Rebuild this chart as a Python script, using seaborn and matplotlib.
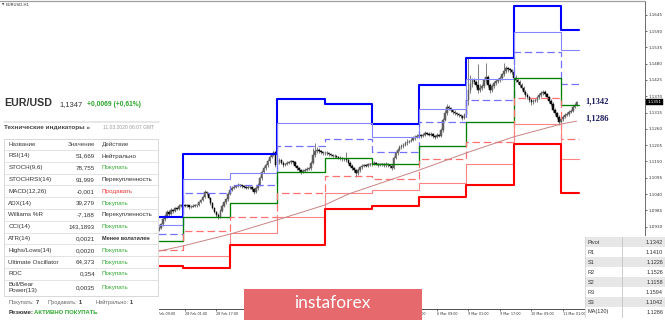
import numpy as np
import pandas as pd
import matplotlib
matplotlib.use("Agg")
import matplotlib.pyplot as plt
import matplotlib.transforms as mtransforms
from matplotlib.patches import Rectangle
import seaborn as sns

# ------------------------------------------------------------------ data
# hourly bars, t = hours since 27 Feb 00:00 (server time, weekends skipped)
first_bar = 12
first_open = 1.0920
close_feb27 = [1.0926, 1.0939, 1.0956, 1.0966, 1.0980, 1.0973, 1.0986, 1.0983, 1.0993, 1.0990, 1.1000, 1.1003]
high_feb27 = [1.0932, 1.0944, 1.0962, 1.0972, 1.0986, 1.0985, 1.0992, 1.0991, 1.0998, 1.0997, 1.1005, 1.1008]
low_feb27 = [1.0914, 1.0921, 1.0934, 1.0950, 1.0960, 1.0967, 1.0968, 1.0977, 1.0979, 1.0985, 1.0986, 1.0996]

close_feb28 = [1.1003, 1.0999, 1.1002, 1.0996, 1.0998, 1.1001, 1.1004, 1.1002, 1.1013, 1.1020, 1.1030, 1.1047,
               1.1042, 1.1027, 1.1010, 1.0993, 1.0980, 1.0970, 1.0963, 1.0983, 1.1000, 1.1013, 1.1023, 1.1040]
high_feb28 = [1.1008, 1.1007, 1.1006, 1.1004, 1.1002, 1.1005, 1.1008, 1.1007, 1.1017, 1.1025, 1.1036, 1.1053,
              1.1050, 1.1044, 1.1030, 1.1014, 1.0996, 1.0984, 1.0975, 1.0988, 1.1005, 1.1018, 1.1028, 1.1046]
low_feb28 = [1.0998, 1.0995, 1.0996, 1.0991, 1.0993, 1.0995, 1.0998, 1.0998, 1.0999, 1.1009, 1.1016, 1.1026,
             1.1036, 1.1022, 1.1004, 1.0988, 1.0975, 1.0964, 1.0955, 1.0958, 1.0978, 1.0996, 1.1008, 1.1018]

close_mar02 = [1.1054, 1.1061, 1.1064, 1.1067, 1.1071, 1.1069, 1.1067, 1.1064, 1.1061, 1.1064, 1.1063, 1.1057,
               1.1047, 1.1061, 1.1071, 1.1094, 1.1115, 1.1128, 1.1138, 1.1152, 1.1165, 1.1172, 1.1182, 1.1138]
high_mar02 = [1.1060, 1.1066, 1.1069, 1.1072, 1.1077, 1.1075, 1.1072, 1.1070, 1.1067, 1.1069, 1.1068, 1.1066,
              1.1060, 1.1066, 1.1077, 1.1100, 1.1121, 1.1134, 1.1144, 1.1158, 1.1171, 1.1178, 1.1186, 1.1185]
low_mar02 = [1.1036, 1.1050, 1.1057, 1.1060, 1.1063, 1.1064, 1.1062, 1.1059, 1.1056, 1.1057, 1.1058, 1.1052,
             1.1040, 1.1043, 1.1055, 1.1066, 1.1089, 1.1110, 1.1122, 1.1133, 1.1146, 1.1160, 1.1167, 1.1132]

close_mar03 = [1.1148, 1.1155, 1.1145, 1.1138, 1.1141, 1.1145, 1.1148, 1.1150, 1.1147, 1.1135, 1.1128, 1.1121,
               1.1115, 1.1118, 1.1121, 1.1125, 1.1128, 1.1145, 1.1172, 1.1185, 1.1189, 1.1185, 1.1182, 1.1179]
high_mar03 = [1.1154, 1.1160, 1.1158, 1.1150, 1.1146, 1.1150, 1.1153, 1.1156, 1.1153, 1.1150, 1.1139, 1.1132,
              1.1126, 1.1124, 1.1127, 1.1130, 1.1133, 1.1150, 1.1195, 1.1212, 1.1200, 1.1194, 1.1190, 1.1186]
low_mar03 = [1.1132, 1.1143, 1.1140, 1.1132, 1.1134, 1.1137, 1.1141, 1.1143, 1.1141, 1.1130, 1.1122, 1.1115,
             1.1108, 1.1110, 1.1114, 1.1117, 1.1120, 1.1122, 1.1140, 1.1165, 1.1180, 1.1178, 1.1176, 1.1173]

close_mar04 = [1.1179, 1.1177, 1.1175, 1.1172, 1.1170, 1.1168, 1.1166, 1.1163, 1.1162, 1.1158, 1.1157, 1.1155,
               1.1145, 1.1135, 1.1128, 1.1121, 1.1111, 1.1121, 1.1131, 1.1135, 1.1138, 1.1136, 1.1141, 1.1140]
high_mar04 = [1.1185, 1.1184, 1.1181, 1.1178, 1.1176, 1.1174, 1.1172, 1.1170, 1.1168, 1.1166, 1.1163, 1.1182,
              1.1160, 1.1150, 1.1140, 1.1133, 1.1126, 1.1127, 1.1136, 1.1140, 1.1143, 1.1143, 1.1146, 1.1146]
low_mar04 = [1.1173, 1.1172, 1.1170, 1.1167, 1.1165, 1.1163, 1.1161, 1.1158, 1.1156, 1.1153, 1.1151, 1.1149,
             1.1140, 1.1130, 1.1122, 1.1115, 1.1098, 1.1106, 1.1116, 1.1126, 1.1131, 1.1131, 1.1132, 1.1134]

close_mar05 = [1.1141, 1.1145, 1.1142, 1.1138, 1.1141, 1.1140, 1.1138, 1.1142, 1.1138, 1.1135, 1.1128, 1.1162,
               1.1179, 1.1189, 1.1199, 1.1202, 1.1206, 1.1212, 1.1216, 1.1219, 1.1222, 1.1229, 1.1233, 1.1236]
high_mar05 = [1.1146, 1.1150, 1.1149, 1.1146, 1.1146, 1.1146, 1.1144, 1.1147, 1.1146, 1.1142, 1.1140, 1.1168,
              1.1185, 1.1195, 1.1205, 1.1210, 1.1212, 1.1218, 1.1225, 1.1224, 1.1228, 1.1235, 1.1239, 1.1242]
low_mar05 = [1.1135, 1.1137, 1.1137, 1.1133, 1.1134, 1.1135, 1.1133, 1.1133, 1.1133, 1.1129, 1.1120, 1.1124,
             1.1157, 1.1173, 1.1184, 1.1193, 1.1197, 1.1201, 1.1207, 1.1211, 1.1214, 1.1218, 1.1224, 1.1228]

close_mar06 = [1.1239, 1.1236, 1.1239, 1.1246, 1.1243, 1.1240, 1.1243, 1.1236, 1.1233, 1.1239, 1.1236, 1.1256,
               1.1290, 1.1313, 1.1334, 1.1330, 1.1324, 1.1317, 1.1313, 1.1310, 1.1307, 1.1303, 1.1297, 1.1307]
high_mar06 = [1.1244, 1.1244, 1.1245, 1.1252, 1.1250, 1.1248, 1.1249, 1.1246, 1.1240, 1.1245, 1.1243, 1.1262,
              1.1297, 1.1325, 1.1345, 1.1342, 1.1335, 1.1328, 1.1322, 1.1318, 1.1314, 1.1311, 1.1306, 1.1312]
low_mar06 = [1.1232, 1.1230, 1.1233, 1.1236, 1.1238, 1.1235, 1.1236, 1.1230, 1.1226, 1.1230, 1.1231, 1.1232,
             1.1250, 1.1285, 1.1308, 1.1323, 1.1318, 1.1311, 1.1307, 1.1304, 1.1301, 1.1297, 1.1290, 1.1292]

close_mar09 = [1.1357, 1.1391, 1.1411, 1.1425, 1.1418, 1.1408, 1.1391, 1.1398, 1.1405, 1.1425, 1.1435, 1.1408,
               1.1391, 1.1405, 1.1415, 1.1421, 1.1425, 1.1432, 1.1445, 1.1455, 1.1465, 1.1462, 1.1459, 1.1452]
high_mar09 = [1.1370, 1.1499, 1.1440, 1.1432, 1.1430, 1.1424, 1.1479, 1.1410, 1.1412, 1.1431, 1.1482, 1.1440,
              1.1414, 1.1411, 1.1421, 1.1428, 1.1431, 1.1438, 1.1450, 1.1482, 1.1472, 1.1470, 1.1466, 1.1462]
low_mar09 = [1.1300, 1.1340, 1.1380, 1.1400, 1.1410, 1.1400, 1.1380, 1.1384, 1.1392, 1.1398, 1.1415, 1.1400,
             1.1380, 1.1384, 1.1398, 1.1408, 1.1414, 1.1418, 1.1426, 1.1438, 1.1448, 1.1452, 1.1450, 1.1444]

close_mar10 = [1.1432, 1.1425, 1.1418, 1.1408, 1.1398, 1.1384, 1.1374, 1.1367, 1.1357, 1.1351, 1.1354, 1.1357,
               1.1367, 1.1374, 1.1381, 1.1384, 1.1378, 1.1367, 1.1354, 1.1344, 1.1324, 1.1313, 1.1300, 1.1283]
high_mar10 = [1.1458, 1.1440, 1.1432, 1.1425, 1.1414, 1.1404, 1.1390, 1.1380, 1.1372, 1.1363, 1.1362, 1.1364,
              1.1372, 1.1380, 1.1388, 1.1392, 1.1390, 1.1382, 1.1372, 1.1360, 1.1350, 1.1330, 1.1318, 1.1306]
low_mar10 = [1.1425, 1.1418, 1.1410, 1.1400, 1.1390, 1.1376, 1.1366, 1.1360, 1.1350, 1.1342, 1.1345, 1.1349,
             1.1352, 1.1362, 1.1368, 1.1375, 1.1370, 1.1360, 1.1346, 1.1337, 1.1318, 1.1306, 1.1292, 1.1273]

close_mar11 = [1.1293, 1.1300, 1.1307, 1.1310, 1.1317, 1.1320, 1.1334, 1.1340, 1.1351]
high_mar11 = [1.1300, 1.1306, 1.1313, 1.1316, 1.1322, 1.1327, 1.1339, 1.1346, 1.1355]
low_mar11 = [1.1278, 1.1288, 1.1295, 1.1302, 1.1305, 1.1312, 1.1316, 1.1330, 1.1336]

# daily pivot levels (start hour of each day, last entry = end of data)
day_start = [0, 24, 48, 72, 96, 120, 144, 168, 192, 216, 225]
lvl_r3 = [1.0962, 1.1174, 1.1174, 1.1361, 1.1343, 1.1276, 1.1408, 1.1500, 1.1675, 1.1594]
lvl_r2 = [1.0936, 1.1090, 1.1110, 1.1279, 1.1281, 1.1234, 1.1327, 1.1428, 1.1586, 1.1526]
lvl_r1 = [1.0905, 1.1045, 1.1071, 1.1202, 1.1225, 1.1183, 1.1282, 1.1357, 1.1518, 1.1410]
lvl_pp = [1.0882, 1.0962, 1.1011, 1.1114, 1.1161, 1.1141, 1.1203, 1.1284, 1.1431, 1.1342]
lvl_s1 = [1.0853, 1.0917, 1.0964, 1.1045, 1.1101, 1.1091, 1.1157, 1.1215, 1.1365, 1.1226]
lvl_s2 = [1.0831, 1.0832, 1.0908, 1.0964, 1.1044, 1.1054, 1.1076, 1.1141, 1.1275, 1.1158]
lvl_s3 = [1.0799, 1.0790, 1.0868, 1.0868, 1.0988, 1.1000, 1.1031, 1.1071, 1.1209, 1.1042]

ma_t = [0, 12, 24, 48, 72, 96, 108, 120, 144, 168, 192, 216, 224]
ma_val = [1.0831, 1.0848, 1.0865, 1.0905, 1.0953, 1.1003, 1.1040, 1.1067, 1.1121, 1.1179, 1.1233, 1.1276, 1.1286]

last_price = "1.1351"
ytick_labels = ["1.1645", "1.1590", "1.1535", "1.1480", "1.1425", "1.1370", "1.1315", "1.1260",
                "1.1205", "1.1150", "1.1095", "1.1040", "1.0985", "1.0930"]
xtick_t = [9, 25, 41, 57, 73, 89, 105, 121, 137, 153, 169, 185, 201, 217]
xtick_labels = ["27 Feb 09:00", "28 Feb 01:00", "28 Feb 17:00", "2 Mar 09:00", "3 Mar 01:00", "3 Mar 17:00",
                "4 Mar 09:00", "5 Mar 01:00", "5 Mar 17:00", "6 Mar 09:00", "9 Mar 01:00", "9 Mar 17:00",
                "10 Mar 09:00", "11 Mar 01:00"]

ind_names = ["RSI(14)", "STOCH(9,6)", "STOCHRSI(14)", "MACD(12,26)", "ADX(14)", "Williams %R", "CCI(14)",
             "ATR(14)", "Highs/Lows(14)", "Ultimate Oscillator", "ROC", "Bull/Bear\nPower(13)"]
ind_values = ["51,669", "78,755", "91,999", "-0,001", "39,279", "-7,188", "143,1893", "0,0021", "0,0020",
              "64,373", "0,354", "0,0035"]
ind_actions = ["Нейтрально", "Покупать", "Перекупленность", "Продавать", "Покупать", "Перекупленность",
               "Покупать", "Менее волатилен", "Покупать", "Покупать", "Покупать", "Покупать"]
summary_labels = ["Покупать:", "Продавать:", "Нейтрально:"]
summary_counts = ["7", "1", "1"]

piv_names = ["Pivot", "R1", "S1", "R2", "S2", "R3", "S3", "MA(120)"]
piv_values = ["1.1342", "1.1410", "1.1226", "1.1526", "1.1158", "1.1594", "1.1042", "1.1286"]

# ------------------------------------------------------------------ style
sns.set_theme(style="white")
plt.rcParams['font.family'] = ['Liberation Sans', 'DejaVu Sans']

W, H = 665, 320
fig = plt.figure(figsize=(W / 100, H / 100), dpi=100, facecolor='white')

# main chart: plot box from x=0..645 px, y=1..309 px
ax = fig.add_axes([0, 11 / H, 645 / W, 308 / H])
ax.set_facecolor('white')

closes = np.array(close_feb27 + close_feb28 + close_mar02 + close_mar03 + close_mar04 + close_mar05 +
                  close_mar06 + close_mar09 + close_mar10 + close_mar11)
highs = np.array(high_feb27 + high_feb28 + high_mar02 + high_mar03 + high_mar04 + high_mar05 +
                 high_mar06 + high_mar09 + high_mar10 + high_mar11)
lows = np.array(low_feb27 + low_feb28 + low_mar02 + low_mar03 + low_mar04 + low_mar05 +
                low_mar06 + low_mar09 + low_mar10 + low_mar11)
opens = np.concatenate([[first_open], closes[:-1]])
tt = np.arange(first_bar, first_bar + len(closes))
up = closes >= opens
body_col = np.where(up, '#5e5e5e', '#0a0a0a')

ax.vlines(tt, lows, highs, colors='#6a6a6a', linewidth=0.6, zorder=2)
ax.bar(tt, closes - opens, bottom=opens, width=0.8, color=body_col, edgecolor=body_col,
       linewidth=0.35, zorder=2.5)

levels = [
    (lvl_r3, '#0000ff', 1.5, '-'),
    (lvl_r2, '#8585ff', 0.8, '-'),
    (lvl_r1, '#7272ff', 0.9, (0, (6, 3))),
    (lvl_pp, '#008000', 0.95, '-'),
    (lvl_s1, '#ff7070', 0.9, (0, (6, 3))),
    (lvl_s2, '#ff8585', 0.8, '-'),
    (lvl_s3, '#ff0000', 1.5, '-'),
]
for vals, col, lw, ls in levels:
    sns.lineplot(x=day_start, y=list(vals) + [vals[-1]], drawstyle='steps-post', color=col,
                 linewidth=lw, linestyle=ls, ax=ax, zorder=3, sort=False)

sns.lineplot(x=ma_t, y=ma_val, color='#c98383', linewidth=0.7, ax=ax, zorder=3, sort=False)

ax.set_xlabel('')
ax.set_ylabel('')
ax.set_xlim(-68.9, 258.7)
ax.set_ylim(1.06524, 1.16912)

ax.yaxis.tick_right()
ax.set_yticks([float(v) for v in ytick_labels])
ax.set_yticklabels(ytick_labels, family='DejaVu Sans')
ax.tick_params(axis='y', direction='out', length=1.6, width=0.5, pad=0.8, labelsize=3,
               colors='#333333', right=True, left=False, labelright=True, labelleft=False)
ax.set_xticks(xtick_t)
ax.set_xticklabels(xtick_labels, ha='left', family='DejaVu Sans')
ax.tick_params(axis='x', direction='out', length=1.6, width=0.5, pad=0.6, labelsize=2.4,
               colors='#333333', bottom=True)
for s in ax.spines.values():
    s.set_visible(True)
ax.spines['left'].set_visible(False)
ax.spines['top'].set_color('#a0a0a0')
ax.spines['top'].set_linewidth(0.9)
ax.spines['right'].set_color('#555555')
ax.spines['right'].set_linewidth(0.6)
ax.spines['bottom'].set_color('#333333')
ax.spines['bottom'].set_linewidth(0.6)

trans = mtransforms.blended_transform_factory(ax.transAxes, ax.transData)
ax.text(1.004, float(last_price), last_price, transform=trans, ha='left', va='center', fontsize=3,
        color='white', family='DejaVu Sans', clip_on=False, zorder=10,
        bbox=dict(boxstyle='square,pad=0.3', fc='black', ec='black', lw=0.3))

# ------------------------------------------------------------------ overlay (pixel coordinates)
ov = fig.add_axes([0, 0, 1, 1])
ov.set_zorder(5)
ov.set_xlim(0, W)
ov.set_ylim(H, 0)
ov.axis('off')
ov.patch.set_visible(False)
renderer = fig.canvas.get_renderer()


def right_px(txt):
    bb = txt.get_window_extent(renderer=renderer)
    return ov.transData.inverted().transform((bb.x1, bb.y0))[0]


ov.text(2, 5, "▼", fontsize=2.2, color='#333333', va='center', family='DejaVu Sans')
ov.text(6, 5, "EURUSD,H1", fontsize=3, color='#333333', va='center', family='DejaVu Sans')

# price labels on chart
ov.text(585, 101.5, piv_values[0].replace('.', ','), fontsize=6.2, fontweight='bold',
        family='Liberation Serif', color='#1d1d5e', va='center', ha='left')
ov.text(585, 118.5, piv_values[-1].replace('.', ','), fontsize=6.2, fontweight='bold',
        family='Liberation Serif', color='#1d1d5e', va='center', ha='left')

# left indicator panel
ov.add_patch(Rectangle((0, 91), 159, H - 91, fc='white', ec='none', zorder=1))
ov.text(4, 103.5, "EUR/USD", fontsize=7.7, fontweight='bold', color='#333333', va='center', zorder=3)
ov.text(59, 104.5, "1,1347", fontsize=5.4, color='#333333', va='center', zorder=3)
ov.text(87, 104.5, "+0,0069 (+0,61%)", fontsize=4.8, fontweight='bold', color='#2aa52a', va='center', zorder=3)
ov.plot([4, 159], [122, 122], color='#e4e4e4', lw=1.2, zorder=2)
ov.text(4, 127.5, "Технические индикаторы »", fontsize=4.6, fontweight='bold', color='#444444',
        va='center', zorder=3)
ov.text(103, 127.5, "11.03.2020 06:07 GMT", fontsize=3.6, color='#9a9a9a', va='center', zorder=3)

tbl_top, tbl_bot = 138.5, 295.5
ov.add_patch(Rectangle((4, tbl_top), 154, tbl_bot - tbl_top, fc='white', ec='#d2d2d2', lw=0.6, zorder=2))
row_edges = [150, 161.8, 173.6, 185.4, 197.2, 209, 220.8, 232.6, 244.4, 256.2, 268, 279.8]
for yy in row_edges:
    ov.plot([4, 158], [yy, yy], color='#dedede', lw=0.6, zorder=2.5)
ov.text(8.3, 144.5, "Название", fontsize=4.5, color='#444444', va='center', zorder=3)
ov.text(95, 144.5, "Значение", fontsize=4.5, color='#444444', va='center', ha='right', zorder=3)
ov.text(102, 144.5, "Действие", fontsize=4.5, color='#444444', va='center', zorder=3)
row_mid = [156, 167.7, 179.5, 191.3, 203.1, 214.9, 226.7, 238.5, 250.3, 262.1, 273.9, 287.6]
act_color = {"Покупать": '#2fa82f', "Продавать": '#f03c3c'}
for name, val, act, ym in zip(ind_names, ind_values, ind_actions, row_mid):
    ov.text(8.3, ym, name, fontsize=4.5, color='#333333', va='center', linespacing=1.05, zorder=3)
    ov.text(95, ym, val, fontsize=4.5, color='#333333', va='center', ha='right', zorder=3)
    ov.text(102, ym, act, fontsize=4.5 if act != "Менее волатилен" else 4.0,
            color=act_color.get(act, '#333333'), va='center', zorder=3,
            fontweight='bold' if act == "Менее волатилен" else 'normal')

# summary line
sx = [8.3, 47.3, 95]
for x0, lab, cnt in zip(sx, summary_labels, summary_counts):
    t1 = ov.text(x0, 302.8, lab, fontsize=4.1, color='#666666', va='center', zorder=3)
    ov.text(right_px(t1) + 1.5, 302.8, cnt, fontsize=4.1, color='#333333', fontweight='bold',
            va='center', zorder=3)
t2 = ov.text(8.3, 312.3, "Резюме:", fontsize=4.3, color='#333333', fontweight='bold', va='center', zorder=3)
ov.text(right_px(t2) + 0.3, 312.3, "АКТИВНО ПОКУПАТЬ", fontsize=4.3, color='#2fa82f', fontweight='bold',
        va='center', zorder=3)

# bottom-right pivot table
ov.add_patch(Rectangle((585, 236), 80, H - 236, fc='white', ec='none', zorder=1))
for i, (nm, vv) in enumerate(zip(piv_names, piv_values)):
    y0 = 237 + i * 10
    fc = '#e7e7e7' if i % 2 == 0 else '#ffffff'
    ov.add_patch(Rectangle((585, y0), 80, 10, fc=fc, ec='none', zorder=2))
    ov.text(588, y0 + 5, nm, fontsize=4, color='#333333', va='center', zorder=3)
    ov.text(663, y0 + 5, vv, fontsize=4, color='#333333', va='center', ha='right', zorder=3)
ov.plot([622, 622], [237, 317], color='#c4c4c4', lw=0.6, zorder=3)
ov.plot([585, 585], [237, 317], color='#d6d6d6', lw=0.6, zorder=3)

# logo band
ov.add_patch(Rectangle((244, 289), 178, H - 289, fc='#e5696d', ec='none', zorder=2))
ov.text(332, 303.5, "instaforex", fontsize=12.5, color='white', family=['Lato', 'DejaVu Sans'],
        fontweight='normal', ha='center', va='center', zorder=3)

fig.savefig("out.png", dpi=100, facecolor='white')
